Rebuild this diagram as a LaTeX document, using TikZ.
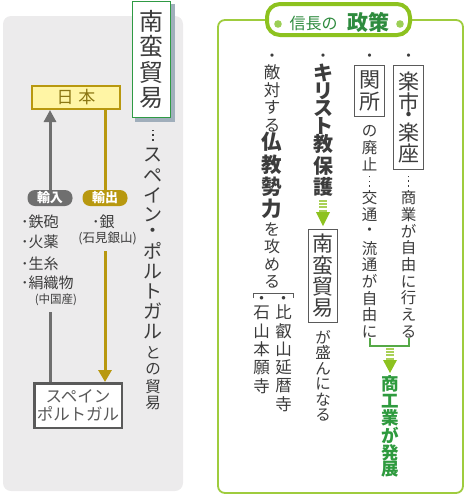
\documentclass[tikz,border=0pt]{standalone}
\usepackage{fontspec}
\setmainfont{Noto Sans CJK JP}
\usetikzlibrary{arrows.meta}
\definecolor{ink}{HTML}{3C3C3C}
\definecolor{panelgray}{HTML}{ECEBEC}
\definecolor{titlegreen}{HTML}{2F9A44}
\definecolor{shadowblue}{HTML}{A0AEBB}
\definecolor{gold}{HTML}{B8980F}
\definecolor{goldtext}{HTML}{8C7714}
\definecolor{yellowfill}{HTML}{FFF5A5}
\definecolor{arrowgray}{HTML}{6F6F6F}
\definecolor{boxgray}{HTML}{5A5A5A}
\definecolor{lime}{HTML}{8DC21F}
\definecolor{limeborder}{HTML}{9FCC3E}
\definecolor{dotgreen}{HTML}{9CCF56}
\definecolor{tgreen}{HTML}{2E8B3E}
\definecolor{dgreen}{HTML}{2E9A3E}
\definecolor{bgreen}{HTML}{55A947}
\makeatletter
\newdimen\vt@p \newdimen\vt@dp
\def\vt@dot{・}
\def\vt@cell#1#2{\hbox to 1em{\hss\vbox to #1{\vss\hbox{#2}\vss}\hss}}
\def\vt@loop#1{\ifx\relax#1\else\def\vt@tmp{#1}\ifx\vt@tmp\vt@dot\vt@cell\vt@dp{#1}\else\vt@cell\vt@p{#1}\fi\expandafter\vt@loop\fi}
\newcommand\vt[3][-1pt]{\vbox{\offinterlineskip\vt@p=#2\relax\ifdim#1<0pt \vt@dp=\vt@p\else\vt@dp=#1\fi\vt@loop#3\relax}}
\makeatother
\newcommand\fs[1]{\fontsize{#1}{#1}\selectfont}
\newcommand\vdot{\hbox to 1em{\hss\rule{1.5pt}{1.5pt}\hss}}
\newcommand\vell{\vbox{\offinterlineskip\vdot\vskip 3.2pt\vdot\vskip 3.2pt\vdot}}
\begin{document}
\begin{tikzpicture}[x=1pt,y=-1pt,
  vcol/.style={inner sep=0pt, anchor=north, text=ink},
  dotn/.style={inner sep=0pt, text=ink, font=\fs{15.5}},
  item/.style={inner sep=0pt, anchor=west, text=ink, font=\fs{15}},
  wbox/.style={draw=boxgray, line width=1.3pt, fill=white, inner sep=0pt, text=ink, font=\fs{21}},
  pill/.style={rounded corners=7.5pt, minimum width=45pt, minimum height=16pt, inner sep=0pt, text=white, font=\bfseries\fs{13}},
  stripe/.style={line width=8pt, lime!75, dash pattern=on 2pt off 1.2pt},
  headg/.style={fill=lime}]
\useasboundingbox (0,0) rectangle (466,496);
% ---------- left panel ----------
\fill[panelgray, rounded corners=8pt] (3,16) rectangle (183,491);
\fill[shadowblue] (135,4) rectangle (174.5,121.5);
\node[draw=titlegreen, line width=1.6pt, fill=white, minimum width=38pt, minimum height=116pt, inner sep=0pt, font=\fs{24}, text=ink] (nbt) at (151.5,59.5) {\vt{25.7pt}{南蛮貿易}};
\node[vcol, font=\fs{19}] (sp1) at (153,125) {\vt[16pt]{20pt}{\vell スペイン・ポルトガル}};
\node[vcol, font=\fs{15.5}] (sp2) at (153,343.5) {\vt{17pt}{との貿易}};
\node[draw=gold, fill=yellowfill, line width=2pt, minimum width=88pt, minimum height=23pt, inner sep=0pt, text=goldtext, font=\fs{17}] (nihon) at (76,97.5) {日\hspace{5pt}本};
\node[pill, fill=arrowgray] (yunyu) at (50,198) {輸入};
\node[pill, fill=gold] (yushutsu) at (105,198) {輸出};
\draw[line width=3pt, arrowgray, -{Triangle[width=12pt,length=12pt]}] (yunyu.north) -- (yunyu.north |- nihon.south);
\draw[line width=3pt, gold] (yushutsu.north |- nihon.south) -- (yushutsu.north);
\node[item] (teppo) at (21,222) {･鉄砲};
\node[item] (kayaku) at (21,242) {･火薬};
\node[item] (kiito) at (21,264) {･生糸};
\node[item] (kinu) at (21,283) {･絹織物};
\node[inner sep=0pt, text=ink, font=\fs{11.5}] (chugoku) at (56,300) {(中国産)};
\node[item] (gin) at (92,222) {･銀};
\node[inner sep=0pt, text=ink, font=\fs{12.5}] (iwami) at (107.5,238) {(石見銀山)};
\node[draw=boxgray, line width=2.5pt, fill=white, minimum width=87.5pt, minimum height=44.5pt, align=center, inner sep=0pt, font=\fontsize{16.5}{18.5}\selectfont, text=ink!85] (spain) at (78,405.5) {スペイン\\ポルトガル};
\coordinate (gtop) at (105,251);
\draw[line width=3pt, gold, -{Triangle[width=13pt,length=12pt]}] (gtop) -- (gtop |- spain.north);
\coordinate (ctop) at (50,312);
\draw[line width=3pt, arrowgray] (ctop) -- (ctop |- spain.north);
% ---------- right panel ----------
\draw[limeborder, line width=1.8pt, rounded corners=7pt, fill=white] (218,20) rectangle (463,493);
\node[draw=lime, line width=4pt, fill=white, rounded corners=13pt, minimum width=143pt, minimum height=31pt, inner sep=0pt] (ttl) at (338.5,19.5) {};
\fill[dotgreen] (278,24) circle (3.8pt);
\fill[dotgreen] (400,24) circle (3.8pt);
\node[inner sep=0pt, font=\fs{16}, text=tgreen] (nobu) at (313.5,23.5) {信長の};
\node[inner sep=0pt, font=\bfseries\fs{21}, text=tgreen] (seisaku) at (368.5,22.5) {政策};
% column 1
\node[dotn] at (408.5,58) {・};
\node[wbox, minimum width=30pt, minimum height=104pt] (rakuichi) at (408.5,117.5) {\vt[9pt]{21pt}{楽市・楽座}};
\node[vcol, font=\fs{15.5}] (c1t) at (408.5,172.65) {\vt{16.7pt}{\vell 商業が自由に行える}};
% column 2
\node[dotn] at (369.5,58) {・};
\node[wbox, minimum width=30pt, minimum height=51pt] (sekisho) at (369.5,91) {\vt{21.5pt}{関所}};
\node[vcol, font=\fs{15.5}] (c2t) at (369.5,122.65) {\vt{16.7pt}{の廃止\vell 交通・流通が自由に}};
\coordinate (b1) at (370,338); \coordinate (b2) at (370,346);
\coordinate (b3) at (409,346); \coordinate (b4) at (409,338);
\draw[bgreen, line width=1.2pt] (b1) -- (b2) -- (b3) -- (b4);
\coordinate (a1) at (390,348); \coordinate (a2) at (390,360);
\draw[stripe] (a1) -- (a2);
\fill[headg] ([xshift=-7pt]a2) -- ([xshift=7pt]a2) -- ([yshift=-13pt]a2) -- cycle;
\node[vcol, font=\bfseries\fs{17.5}, text=dgreen] (hatten) at (390,374.9) {\vt{17.2pt}{商工業が発展}};
% column 3
\node[dotn] at (323,58) {・};
\node[vcol, font=\bfseries\fs{20}] (kiri1) at (323,64.1) {\vt{17.75pt}{キリスト}};
\node[vcol, font=\bfseries\fs{20}] (kiri2) at (323,133.25) {\vt{21.5pt}{教保護}};
\coordinate (k1) at (323,200); \coordinate (k2) at (323,212);
\draw[stripe] (k1) -- (k2);
\fill[headg] ([xshift=-7pt]k2) -- ([xshift=7pt]k2) -- ([yshift=-14pt]k2) -- cycle;
\node[wbox, minimum width=29pt, minimum height=93pt] (nb2) at (323,276) {\vt{21.5pt}{南蛮貿易}};
\node[vcol, font=\fs{15.5}] (sakan) at (323,329.2) {\vt{15.6pt}{が盛んになる}};
% column 4
\node[dotn] at (272,58) {・};
\node[vcol, font=\fs{16.5}] (teki) at (272,63.75) {\vt{17.5pt}{敵対する}};
\node[vcol, font=\bfseries\fs{20.5}] (bukkyo) at (272,130.85) {\vt{22.3pt}{仏教勢力}};
\node[vcol, font=\fs{16}] (semeru) at (272,220.25) {\vt{17.5pt}{を攻める}};
\coordinate (t1) at (253,298); \coordinate (t2) at (253,293);
\coordinate (t3) at (293,293); \coordinate (t4) at (293,298);
\draw[boxgray, line width=1pt] (t1) -- (t2) -- (t3) -- (t4);
\node[vcol, font=\fs{16.5}] (hiei) at (283.5,297) {\vt[6pt]{18.4pt}{・比叡山延暦寺}};
\node[vcol, font=\fs{16.5}] (ishi) at (261.5,297.5) {\vt[6pt]{18.3pt}{・石山本願寺}};
\end{tikzpicture}
\end{document}
